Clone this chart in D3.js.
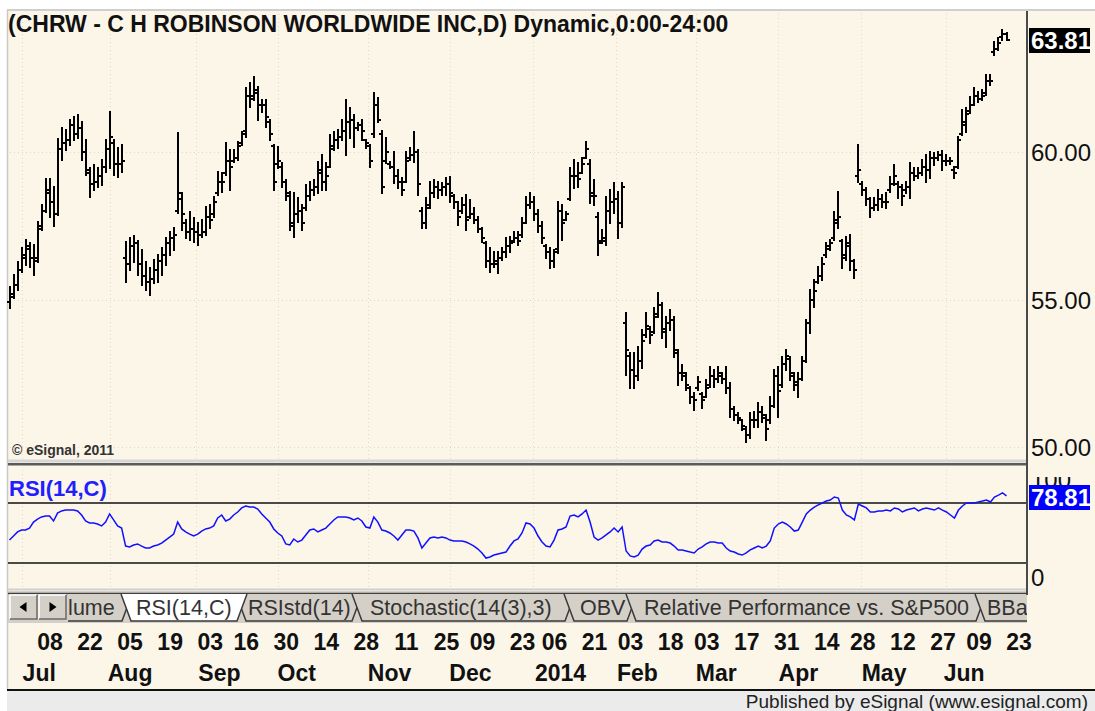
<!DOCTYPE html>
<html>
<head>
<meta charset="utf-8">
<script src="https://cdn.jsdelivr.net/npm/d3@7"></script>
<style>
  body { margin: 0; background: #fff; }
  svg text { font-family: "Liberation Sans", Arial, sans-serif; }
</style>
</head>
<body>
<script>
// daily bars, index 0 = first session shown (late Jun 2013)
var opens = [
  54.90, 55.20, 55.50, 56.00, 56.40, 56.70, 56.40, 56.40, 57.50, 58.00,
  58.70, 58.30, 57.90, 60.10, 60.30, 60.40, 60.90, 60.60, 60.80, 60.00,
  59.30, 58.90, 59.00, 59.20, 59.50, 60.10, 60.30, 59.60, 59.60, 56.40,
  56.20, 56.80, 56.90, 56.20, 55.80, 55.60, 55.70, 56.00, 56.30, 56.50,
  56.90, 57.10, 58.00, 58.40, 57.60, 57.30, 57.40, 57.30, 57.20, 57.30,
  57.80, 57.90, 58.60, 59.00, 59.30, 59.70, 59.70, 59.80, 60.30, 60.70,
  61.90, 61.90, 62.00, 61.60, 61.60, 61.00, 60.20, 59.60, 59.50, 59.00,
  58.50, 57.50, 57.90, 58.00, 58.10, 58.50, 58.70, 58.80, 59.40, 59.00,
  59.50, 60.20, 60.40, 60.50, 60.70, 61.00, 61.10, 60.80, 60.90, 60.40,
  60.20, 60.60, 61.60, 60.60, 59.70, 59.60, 59.50, 59.20, 59.00, 59.00,
  59.80, 59.90, 60.00, 58.00, 57.60, 58.20, 58.60, 58.80, 58.70, 58.80,
  58.90, 58.50, 58.30, 58.00, 58.20, 57.80, 57.90, 57.70, 57.40, 56.90,
  56.30, 56.20, 56.20, 56.40, 56.60, 56.80, 57.00, 57.10, 57.20, 57.60,
  58.20, 58.30, 57.90, 57.50, 56.80, 56.60, 56.30, 56.70, 58.00, 57.70,
  58.40, 59.20, 59.20, 59.30, 59.80, 59.60, 58.60, 57.80, 57.00, 57.00,
  58.00, 58.30, 58.40, 57.60, 54.20, 53.10, 52.60, 52.40, 52.90, 53.80,
  54.00, 53.90, 54.50, 54.80, 53.90, 54.20, 54.30, 53.20, 52.50, 52.40,
  52.00, 51.70, 52.00, 51.80, 51.70, 52.10, 52.40, 52.30, 52.40, 52.30,
  52.00, 51.30, 51.10, 50.90, 50.60, 50.40, 50.90, 50.90, 51.20, 51.00,
  50.90, 51.40, 52.40, 52.10, 52.80, 53.00, 52.40, 52.10, 52.30, 52.90,
  54.20, 55.00, 55.60, 55.80, 56.50, 56.80, 57.10, 57.70, 57.00, 56.50,
  56.90, 56.30, 59.20, 58.90, 58.70, 58.40, 58.10, 58.20, 58.40, 58.30,
  58.70, 58.90, 58.90, 58.80, 58.70, 58.80, 59.30, 59.20, 59.30, 59.50,
  59.40, 59.80, 59.80, 59.90, 59.70, 59.70, 59.40, 59.50, 60.60, 60.90,
  61.40, 61.60, 61.90, 61.80, 62.00, 62.40, 63.40, 63.50, 63.90, 64.00
];
var highs = [
  55.42, 55.83, 56.27, 56.75, 57.02, 56.90, 56.85, 57.63, 58.20, 59.10,
  59.10, 58.80, 60.45, 60.80, 60.75, 61.08, 61.20, 61.25, 61.02, 60.41,
  59.46, 59.56, 59.46, 59.73, 60.41, 61.36, 60.41, 60.14, 60.24, 56.95,
  57.08, 57.15, 57.00, 56.68, 56.27, 56.07, 56.34, 56.50, 56.75, 57.08,
  57.29, 57.42, 60.64, 58.61, 57.70, 57.97, 57.76, 57.59, 57.70, 58.14,
  58.20, 58.47, 59.32, 59.29, 60.30, 60.07, 60.07, 60.34, 60.68, 62.17,
  62.34, 62.54, 62.20, 61.76, 61.76, 61.08, 60.24, 60.17, 59.63, 59.05,
  58.64, 58.61, 58.44, 58.20, 58.88, 58.98, 59.05, 59.66, 59.90, 59.63,
  60.58, 60.68, 60.75, 61.08, 61.76, 61.49, 61.25, 60.98, 61.08, 60.41,
  60.24, 62.00, 61.83, 60.70, 60.47, 59.66, 60.00, 59.39, 59.12, 60.00,
  60.14, 60.68, 60.07, 58.10, 58.44, 58.98, 59.05, 58.98, 58.95, 59.12,
  59.15, 58.54, 58.30, 58.44, 58.54, 58.37, 58.10, 57.80, 57.42, 56.95,
  56.75, 56.61, 56.61, 56.75, 57.08, 57.12, 57.29, 57.29, 57.76, 58.47,
  58.61, 58.47, 58.03, 57.63, 56.85, 56.75, 56.68, 58.30, 58.20, 57.97,
  59.46, 59.73, 59.63, 59.80, 60.34, 59.73, 59.05, 57.93, 57.36, 58.47,
  58.71, 58.95, 58.64, 58.95, 54.54, 53.19, 53.19, 53.39, 53.97, 54.54,
  54.07, 54.71, 55.22, 54.88, 54.41, 54.64, 54.41, 53.29, 52.78, 52.51,
  52.03, 51.83, 52.37, 51.83, 52.27, 52.71, 52.61, 52.71, 52.51, 52.71,
  52.17, 51.36, 51.15, 50.92, 50.68, 51.15, 51.19, 51.49, 51.36, 51.08,
  51.69, 52.61, 52.71, 53.05, 53.29, 53.05, 52.51, 52.51, 53.05, 54.31,
  55.32, 55.66, 56.10, 56.41, 56.92, 57.02, 57.97, 58.64, 57.02, 57.12,
  57.19, 56.34, 60.24, 58.98, 58.78, 58.44, 58.44, 58.71, 58.54, 58.61,
  59.15, 59.56, 58.98, 58.88, 58.98, 59.63, 59.46, 59.46, 59.73, 59.90,
  60.00, 59.97, 60.00, 60.03, 59.90, 59.80, 59.49, 60.51, 61.42, 61.49,
  61.86, 62.17, 62.03, 62.10, 62.61, 62.61, 63.73, 63.86, 64.14, 64.03
];
var lows = [
  54.71, 55.05, 55.32, 55.93, 56.17, 56.10, 55.83, 56.27, 57.36, 57.97,
  57.80, 57.50, 57.85, 59.73, 60.07, 60.24, 60.40, 60.47, 59.73, 59.22,
  58.47, 58.71, 58.81, 58.88, 59.32, 59.46, 59.22, 59.15, 59.32, 55.60,
  56.00, 56.27, 55.83, 55.50, 55.32, 55.15, 55.56, 55.60, 55.83, 56.17,
  56.50, 56.68, 57.93, 57.36, 57.08, 57.02, 56.95, 56.85, 57.12, 57.19,
  57.42, 57.80, 58.54, 58.64, 59.22, 58.71, 59.66, 59.73, 60.24, 60.51,
  61.53, 61.76, 61.08, 61.36, 60.85, 60.41, 58.71, 59.46, 58.81, 58.37,
  57.36, 57.12, 57.63, 57.36, 58.03, 58.37, 58.54, 58.61, 58.71, 58.71,
  59.49, 60.07, 60.14, 60.41, 59.90, 60.47, 60.17, 60.75, 60.41, 60.14,
  59.49, 60.50, 61.02, 58.60, 59.63, 59.46, 58.95, 58.78, 58.54, 58.98,
  59.73, 59.66, 58.54, 57.42, 57.42, 58.10, 58.47, 58.44, 58.54, 58.54,
  58.30, 58.10, 57.53, 57.93, 57.36, 57.76, 57.59, 57.29, 56.95, 56.10,
  55.93, 56.10, 55.90, 56.34, 56.44, 56.61, 56.95, 56.85, 57.12, 57.59,
  58.10, 57.70, 57.29, 56.92, 56.41, 56.07, 56.10, 56.58, 57.02, 57.70,
  58.37, 58.78, 58.81, 59.29, 59.80, 58.27, 58.20, 56.51, 56.92, 56.85,
  57.59, 57.93, 57.08, 57.46, 52.44, 52.00, 52.00, 52.27, 52.68, 53.73,
  53.53, 53.86, 54.41, 53.69, 53.39, 53.97, 53.05, 52.10, 52.27, 51.93,
  51.49, 51.25, 51.93, 51.32, 51.69, 52.03, 52.03, 52.20, 52.17, 51.83,
  51.02, 50.92, 50.81, 50.58, 50.17, 50.31, 50.68, 50.68, 50.85, 50.24,
  50.81, 51.36, 51.02, 52.03, 52.61, 52.27, 51.93, 51.69, 52.27, 52.88,
  53.86, 54.75, 55.56, 55.66, 56.44, 56.68, 57.02, 57.42, 56.07, 56.34,
  56.00, 55.73, 58.98, 58.54, 58.20, 57.80, 58.03, 58.03, 58.14, 58.10,
  58.64, 58.88, 58.44, 58.20, 58.61, 58.44, 59.05, 59.12, 59.22, 58.98,
  59.12, 59.56, 59.73, 59.39, 59.56, 59.59, 59.12, 59.46, 60.58, 60.68,
  61.32, 61.59, 61.69, 61.76, 61.93, 62.27, 63.29, 63.46, 63.80, 63.80
];
var closes = [
  55.10, 55.50, 56.00, 56.50, 56.80, 56.40, 56.30, 57.40, 58.00, 58.60,
  58.30, 57.90, 60.10, 60.30, 60.40, 60.90, 60.60, 60.80, 60.00, 59.40,
  58.90, 59.00, 59.20, 59.50, 60.10, 60.50, 59.60, 59.60, 59.70, 56.20,
  56.80, 56.90, 56.20, 55.80, 55.60, 55.70, 56.00, 56.30, 56.50, 56.90,
  57.10, 57.20, 58.60, 57.90, 57.30, 57.40, 57.30, 57.20, 57.30, 57.80,
  57.70, 58.30, 59.00, 59.00, 59.70, 59.50, 59.80, 60.20, 60.60, 61.90,
  61.80, 62.10, 61.60, 61.60, 61.20, 60.60, 59.00, 59.70, 59.00, 58.60,
  57.60, 57.90, 58.00, 57.60, 58.50, 58.70, 58.80, 59.30, 59.00, 59.20,
  60.10, 60.40, 60.50, 60.70, 61.00, 61.10, 60.80, 60.90, 60.70, 60.30,
  59.70, 61.60, 61.10, 58.80, 60.00, 59.50, 59.20, 59.00, 58.70, 59.70,
  59.90, 60.00, 58.90, 57.60, 58.10, 58.60, 58.80, 58.70, 58.80, 58.90,
  58.60, 58.30, 57.80, 58.20, 57.70, 57.90, 57.70, 57.40, 57.10, 56.30,
  56.20, 56.30, 56.40, 56.60, 56.80, 56.90, 57.10, 57.00, 57.60, 58.20,
  58.30, 57.90, 57.50, 57.10, 56.60, 56.30, 56.60, 58.00, 57.60, 57.90,
  59.20, 59.20, 59.10, 59.60, 60.10, 58.50, 58.50, 56.90, 57.10, 58.00,
  58.30, 58.40, 57.60, 58.80, 53.30, 52.60, 52.40, 52.90, 53.60, 54.10,
  53.80, 54.40, 54.80, 54.00, 54.20, 54.30, 53.30, 52.50, 52.50, 52.10,
  51.70, 51.60, 52.20, 51.60, 52.00, 52.40, 52.30, 52.50, 52.30, 52.00,
  51.30, 51.10, 51.00, 50.70, 50.40, 50.90, 50.90, 51.20, 51.10, 50.60,
  51.40, 52.40, 51.90, 52.80, 53.10, 52.50, 52.20, 52.30, 52.90, 54.20,
  55.00, 55.30, 55.80, 56.20, 56.70, 56.90, 57.60, 57.80, 56.40, 56.80,
  56.30, 56.00, 59.40, 58.70, 58.40, 58.10, 58.20, 58.40, 58.30, 58.30,
  58.90, 59.20, 58.80, 58.50, 58.80, 59.30, 59.20, 59.30, 59.50, 59.40,
  59.80, 59.80, 59.90, 59.70, 59.70, 59.70, 59.30, 60.40, 61.00, 61.30,
  61.60, 61.90, 61.80, 61.90, 62.40, 62.40, 63.50, 63.70, 64.00, 63.81
];
var rsi = [
  45.3, 48.0, 50.7, 52.0, 52.0, 53.3, 57.3, 59.3, 60.7, 61.3,
  61.3, 58.0, 63.3, 64.7, 65.3, 65.3, 65.3, 64.7, 62.0, 58.0,
  56.7, 56.7, 56.0, 54.7, 57.3, 62.7, 58.7, 54.7, 53.3, 41.3,
  40.7, 42.0, 42.7, 41.3, 40.0, 40.0, 41.3, 42.0, 43.3, 45.3,
  47.3, 49.3, 57.3, 52.7, 50.7, 49.3, 48.0, 49.3, 51.3, 52.7,
  53.3, 54.7, 60.0, 62.0, 58.0, 59.3, 62.0, 64.0, 66.7, 68.0,
  67.3, 67.3, 66.0, 62.7, 60.0, 57.3, 52.7, 50.0, 48.0, 42.7,
  42.0, 46.0, 44.0, 45.3, 48.7, 52.0, 52.7, 50.7, 52.0, 53.3,
  56.0, 58.7, 60.7, 60.7, 60.7, 60.0, 58.7, 60.0, 58.0, 54.0,
  53.3, 60.7, 57.3, 52.0, 51.3, 50.0, 48.0, 45.3, 48.7, 52.0,
  52.0, 51.3, 46.7, 40.0, 43.3, 46.7, 47.3, 46.7, 47.3, 46.7,
  45.3, 44.7, 44.7, 44.7, 44.0, 42.7, 41.3, 39.3, 36.7, 33.3,
  34.0, 35.3, 36.0, 36.7, 37.3, 41.3, 44.7, 46.0, 50.0, 56.7,
  56.0, 53.3, 48.0, 44.0, 41.3, 40.7, 45.3, 52.0, 52.7, 54.0,
  61.3, 62.0, 60.7, 62.7, 65.3, 57.3, 47.3, 45.3, 46.7, 48.7,
  50.7, 53.3, 50.7, 54.0, 38.0, 34.7, 34.0, 35.3, 39.3, 41.3,
  42.0, 44.7, 45.3, 44.0, 44.0, 43.3, 41.3, 38.7, 38.7, 38.0,
  37.3, 36.7, 39.3, 40.7, 42.7, 44.0, 44.0, 43.3, 43.3, 40.0,
  38.0, 37.3, 36.0, 35.3, 36.7, 38.7, 40.0, 41.3, 40.0, 41.3,
  44.7, 53.3, 56.0, 57.3, 56.0, 54.0, 51.3, 52.0, 57.3, 62.7,
  65.3, 67.3, 68.7, 70.0, 71.3, 72.0, 74.0, 73.3, 65.3, 62.0,
  60.7, 58.7, 69.3, 68.0, 66.7, 64.0, 64.0, 64.7, 64.7, 65.3,
  64.7, 66.7, 66.0, 64.0, 65.3, 66.0, 66.7, 64.7, 66.0, 66.7,
  66.0, 65.3, 66.7, 65.3, 64.0, 62.0, 60.0, 65.3, 68.0, 70.0,
  70.0, 70.0, 70.7, 71.3, 72.0, 70.7, 74.0, 75.3, 76.7, 74.7
];

// time axis: bar index of each label
var dayLabels = ["08","22","05","19","03","16","30","14","28","11","25","09","23",
                 "06","21","03","18","03","17","31","14","28","12","27","09","23"];
var dayIdx = [10,20,30,40,50,59,69,79,89,99,109,118,128,136,146,155,165,174,184,194,204,213,223,233,242,252];
var monthLabels = ["Jul","Aug","Sep","Oct","Nov","Dec","2014","Feb","Mar","Apr","May","Jun"];
var monthIdx = [7.3, 30, 52.3, 71.6, 94.8, 115, 137.5, 156.7, 176.4, 196.9, 218.3, 238.3];
var gridIdx = [3, 25, 46.7, 67, 89.6, 110, 130.7, 151.4, 171.4, 192, 212.6, 233.8];

var priceTicks = [50, 55, 60];
var rsiLevels = [30, 70];
var rsiTicks = [0, 100];
var lastPrice = "63.81", lastRsi = "78.81";

var title = "(CHRW - C H ROBINSON WORLDWIDE INC,D) Dynamic,0:00-24:00";
var tabNames = ["Volume", "RSI(14,C)", "RSIstd(14)", "Stochastic(14(3),3)", "OBV",
                "Relative Performance vs. S&P500", "BBands(20,2)"];
var activeTab = 1;

// layout
var W = 1095, H = 711;
var left = 8, right = 1027;
var cream = "#fcf6e9";

var svg = d3.select("body")
  .append("svg")
    .attr("width", W)
    .attr("height", H);

// backgrounds
svg.append("rect").attr("width", W).attr("height", H).attr("fill", "#fff");
svg.append("rect").attr("x", 7).attr("y", 10).attr("width", W - 7).attr("height", 680).attr("fill", cream);
svg.append("line").attr("x1", 7).attr("x2", W).attr("y1", 10).attr("y2", 10)
  .attr("stroke", "#cfcfcf").attr("stroke-width", 2);
svg.append("line").attr("x1", 7.5).attr("x2", 7.5).attr("y1", 10).attr("y2", 690)
  .attr("stroke", "#c8c8c8").attr("stroke-width", 1.5);

// scales
var x = d3.scaleLinear().domain([0, 249]).range([9.5, 1006.5]);
var yP = d3.scaleLinear().domain([50, 60]).range([447, 152]);
var yR = d3.scaleLinear().domain([30, 70]).range([563, 503]);
var yRLabel = d3.scaleLinear().domain([0, 100]).range([577, 479]);

// dotted grid
var grid = svg.append("g").attr("stroke", "#e2d8c4").attr("stroke-width", 1)
  .attr("stroke-dasharray", "1,3");
grid.selectAll(".vg").data(gridIdx).enter().append("line")
  .attr("x1", function(d) { return Math.round(x(d)) + 0.5; })
  .attr("x2", function(d) { return Math.round(x(d)) + 0.5; })
  .attr("y1", 14).attr("y2", 459);
grid.selectAll(".vr").data(gridIdx).enter().append("line")
  .attr("x1", function(d) { return Math.round(x(d)) + 0.5; })
  .attr("x2", function(d) { return Math.round(x(d)) + 0.5; })
  .attr("y1", 470).attr("y2", 588);
grid.selectAll(".hg").data(priceTicks).enter().append("line")
  .attr("x1", left + 2).attr("x2", right - 2)
  .attr("y1", function(d) { return Math.round(yP(d)) + 0.5; })
  .attr("y2", function(d) { return Math.round(yP(d)) + 0.5; });

// title
svg.append("text")
  .attr("x", 8).attr("y", 32)
  .attr("font-size", 23).attr("font-weight", "bold").attr("fill", "#111")
  .text(title);

// price bars (OHLC)
var idx = d3.range(closes.length);
svg.append("g")
    .attr("stroke", "#000")
    .attr("stroke-width", 2)
    .attr("fill", "none")
  .selectAll("path")
  .data(idx)
  .enter()
  .append("path")
    .attr("d", function(i) {
      var cx = Math.round(x(i));
      var o = Math.round(yP(opens[i])), c = Math.round(yP(closes[i]));
      return "M" + cx + "," + Math.round(yP(highs[i]) - 1) + "V" + Math.round(yP(lows[i]) + 1) +
             "M" + (cx - 3) + "," + o + "H" + cx +
             "M" + cx + "," + c + "H" + (cx + 3);
    });

svg.append("text")
  .attr("x", 12).attr("y", 455)
  .attr("font-size", 14).attr("font-weight", "bold").attr("fill", "#333")
  .text("\u00a9 eSignal, 2011");

// pane separator
svg.append("rect").attr("x", left).attr("y", 459.5).attr("width", right - left).attr("height", 3).attr("fill", "#d6d6d6");
svg.append("rect").attr("x", left).attr("y", 463).attr("width", right - left).attr("height", 2.5).attr("fill", "#5a5a5a");

// price axis
var pAxis = svg.append("g")
  .attr("transform", "translate(1029,0)")
  .call(d3.axisRight(yP).tickValues(priceTicks).tickFormat(d3.format(".2f")).tickSize(0).tickPadding(2));
pAxis.select(".domain").remove();
pAxis.selectAll("text").attr("font-size", 24).attr("fill", "#111")
  .attr("font-family", "'Liberation Sans', Arial, sans-serif").attr("dy", "0.36em");

// last price box
var lp = Math.round(yP(+lastPrice));
svg.append("rect").attr("x", 1029).attr("y", lp - 12).attr("width", 61).attr("height", 25).attr("fill", "#000");
svg.append("text").attr("x", 1031).attr("y", lp + 9)
  .attr("font-size", 24).attr("font-weight", "bold").attr("fill", "#fff").text(lastPrice);

// RSI pane
svg.append("text")
  .attr("x", 9).attr("y", 496)
  .attr("font-size", 22).attr("font-weight", "bold").attr("fill", "#2020ff")
  .text("RSI(14,C)");

svg.selectAll(".lvl").data(rsiLevels).enter().append("line")
  .attr("x1", left).attr("x2", right)
  .attr("y1", function(d) { return yR(d); })
  .attr("y2", function(d) { return yR(d); })
  .attr("stroke", "#111").attr("stroke-width", 1.6);

var rsiLine = d3.line()
  .x(function(i) { return x(i); })
  .y(function(i) { return yR(rsi[i]); });
svg.append("path")
  .datum(idx)
  .attr("d", rsiLine)
  .attr("fill", "none")
  .attr("stroke", "#1010ff")
  .attr("stroke-width", 1.5);

// clip rect is in the axis group's own coordinates (it is translated by 1029)
svg.append("clipPath").attr("id", "rclip")
  .append("rect").attr("x", -2).attr("y", 477).attr("width", 70).attr("height", 120);
var rAxis = svg.append("g")
  .attr("transform", "translate(1029,0)")
  .attr("clip-path", "url(#rclip)")
  .call(d3.axisRight(yRLabel).tickValues(rsiTicks).tickFormat(d3.format("d")).tickSize(0).tickPadding(2));
rAxis.select(".domain").remove();
rAxis.selectAll("text").attr("font-size", 24).attr("fill", "#111")
  .attr("font-family", "'Liberation Sans', Arial, sans-serif").attr("dy", "0.36em");

var lr = Math.round(yR(rsi[rsi.length - 1]));
svg.append("rect").attr("x", 1029).attr("y", lr - 11).attr("width", 61).attr("height", 25).attr("fill", "#0000ff");
svg.append("text").attr("x", 1031).attr("y", lr + 10)
  .attr("font-size", 24).attr("font-weight", "bold").attr("fill", "#fff").text(lastRsi);

svg.append("line").attr("x1", left).attr("x2", right).attr("y1", 589.5).attr("y2", 589.5)
  .attr("stroke", "#d0d0d0").attr("stroke-width", 2);

// tab strip
svg.append("rect").attr("x", left).attr("y", 591).attr("width", right - left).attr("height", 32).attr("fill", "#d4d0c8");
svg.append("line").attr("x1", left).attr("x2", right).attr("y1", 593.5).attr("y2", 593.5)
  .attr("stroke", "#404040").attr("stroke-width", 1.5);

var tabLeft = [20, 121, 236, 352, 564, 626, 975];
var tabRight = [132, 247, 362, 575, 637, 986, 1110];
var tabText = [43, 136, 248, 370, 580, 644, 987];
var tTop = 594, tBot = 621, slant = 10;

svg.append("clipPath").attr("id", "tclip")
  .append("rect").attr("x", 68).attr("y", 590).attr("width", right - 68).attr("height", 34);
var tabs = svg.append("g").attr("clip-path", "url(#tclip)");
var order = d3.range(tabNames.length).filter(function(k) { return k !== activeTab; }).concat([activeTab]);
order.forEach(function(k) {
  var a = tabLeft[k], b = tabRight[k];
  tabs.append("path")
    .attr("d", "M" + a + "," + tTop + "L" + (a + slant) + "," + tBot + "L" + (b - slant) + "," + tBot + "L" + b + "," + tTop + "Z")
    .attr("fill", k === activeTab ? "#fff" : "#d4d0c8");
  tabs.append("path")
    .attr("d", "M" + a + "," + tTop + "L" + (a + slant) + "," + tBot + "L" + (b - slant) + "," + tBot + "L" + b + "," + tTop)
    .attr("fill", "none").attr("stroke", "#3a3a3a").attr("stroke-width", 1.5);
  tabs.append("text")
    .attr("x", tabText[k]).attr("y", 615)
    .attr("font-size", 21.5).attr("fill", "#333")
    .text(tabNames[k]);
});

// scroll buttons
[10, 39].forEach(function(bx, k) {
  svg.append("rect").attr("x", bx).attr("y", 595).attr("width", 27).attr("height", 24).attr("fill", "#d4d0c8");
  svg.append("path").attr("d", "M" + bx + "," + 619 + "V595H" + (bx + 27))
    .attr("fill", "none").attr("stroke", "#fff").attr("stroke-width", 1.5);
  svg.append("path").attr("d", "M" + bx + "," + 619 + "H" + (bx + 27) + "V595")
    .attr("fill", "none").attr("stroke", "#6a6a6a").attr("stroke-width", 1.5);
  var cx = bx + 13.5;
  svg.append("path")
    .attr("d", k === 0 ? "M" + (cx + 3) + ",602L" + (cx - 4) + ",607L" + (cx + 3) + ",612Z"
                       : "M" + (cx - 3) + ",602L" + (cx + 4) + ",607L" + (cx - 3) + ",612Z")
    .attr("fill", "#000");
});

// right axis line
svg.append("line").attr("x1", right).attr("x2", right).attr("y1", 11).attr("y2", 595)
  .attr("stroke", "#4a4a4a").attr("stroke-width", 2);

// date axis
var dAxis = svg.append("g")
  .attr("transform", "translate(0,630)")
  .call(d3.axisBottom(x).tickValues(dayIdx)
    .tickFormat(function(d, k) { return dayLabels[k]; }).tickSize(0).tickPadding(4));
dAxis.select(".domain").remove();
dAxis.selectAll("text").attr("font-size", 23).attr("font-weight", "bold").attr("fill", "#111")
  .attr("font-family", "'Liberation Sans', Arial, sans-serif");

var mAxis = svg.append("g")
  .attr("transform", "translate(0,662)")
  .call(d3.axisBottom(x).tickValues(monthIdx)
    .tickFormat(function(d, k) { return monthLabels[k]; }).tickSize(0).tickPadding(3));
mAxis.select(".domain").remove();
mAxis.selectAll("text").attr("font-size", 23).attr("font-weight", "bold").attr("fill", "#111")
  .attr("font-family", "'Liberation Sans', Arial, sans-serif");

// status bar
svg.append("rect").attr("x", 7).attr("y", 691).attr("width", W - 7).attr("height", 20).attr("fill", "#ebebeb");
svg.append("line").attr("x1", 7).attr("x2", W).attr("y1", 690).attr("y2", 690)
  .attr("stroke", "#111").attr("stroke-width", 2);
svg.append("text")
  .attr("x", 1088).attr("y", 708).attr("text-anchor", "end")
  .attr("font-size", 19).attr("fill", "#222")
  .text("Published by eSignal (www.esignal.com)");
</script>
</body>
</html>
